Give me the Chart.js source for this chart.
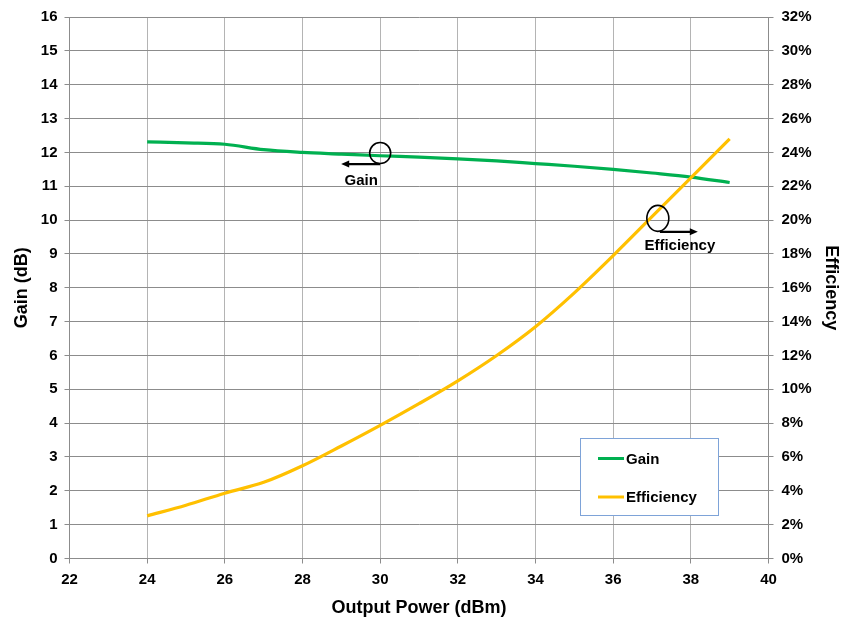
<!DOCTYPE html>
<html>
<head>
<meta charset="utf-8">
<script src="https://cdn.jsdelivr.net/npm/chart.js@4.4.1/dist/chart.umd.min.js"></script>
<style>
  html, body { margin: 0; padding: 0; background: #fff; }
  #wrap { width: 842px; height: 624px; }
</style>
</head>
<body>
<div id="wrap"><canvas id="chart" width="842" height="624"></canvas></div>
<script>
// x values (dBm)
const outputPower = [24, 25, 26, 27, 28, 29, 30, 31, 32, 33, 34, 35, 36, 37, 38, 39];
// Gain (dB), left axis
const gainDb = [12.31, 12.28, 12.24, 12.08, 12.0, 11.95, 11.9, 11.86, 11.81, 11.75, 11.67, 11.59, 11.5, 11.39, 11.27, 11.11];
// Efficiency (%), right axis
const efficiencyPct = [2.52, 3.15, 3.86, 4.5, 5.48, 6.65, 7.87, 9.15, 10.5, 12.0, 13.7, 15.7, 17.9, 20.2, 22.5, 24.8];
const seriesNames = ["Gain", "Efficiency"];
const seriesColors = ["#00b050", "#ffc000"];
// callout anchors: [x, y] in data units of each series' axis
const gainCallout = [30, 11.98];
const effCallout = [37.15, 20.1];

const FONT = "'Liberation Sans', Arial, sans-serif";

function toPoints(xs, ys) {
  return xs.map((x, i) => ({ x: x, y: ys[i] }));
}

//draws the boxed legend inside the plot
const legendBox = {
  id: "legendBox",
  afterDatasetsDraw(chart) {
    const ctx = chart.ctx;
    ctx.save();
    ctx.fillStyle = "#ffffff";
    ctx.fillRect(580.5, 438.5, 138, 77);
    ctx.strokeStyle = "#7ea3d8";
    ctx.lineWidth = 1;
    ctx.strokeRect(580.5, 438.5, 138, 77);
    const rows = [458.5, 497];
    seriesNames.forEach((name, i) => {
      ctx.strokeStyle = seriesColors[i];
      ctx.lineWidth = 3;
      ctx.beginPath();
      ctx.moveTo(598, rows[i]);
      ctx.lineTo(624, rows[i]);
      ctx.stroke();
      ctx.fillStyle = "#000";
      ctx.font = "bold 15px " + FONT;
      ctx.textBaseline = "middle";
      ctx.textAlign = "left";
      ctx.fillText(name, 626, rows[i] + 1);
    });
    ctx.restore();
  }
};

//circle + arrow + label callouts
const callouts = {
  id: "callouts",
  afterDatasetsDraw(chart) {
    const ctx = chart.ctx;
    const xs = chart.scales.x;
    ctx.save();
    ctx.strokeStyle = "#000";
    ctx.fillStyle = "#000";

    function arrow(x1, y, x2) {
      const dir = x2 > x1 ? 1 : -1;
      ctx.lineWidth = 2.2;
      ctx.beginPath();
      ctx.moveTo(x1, y);
      ctx.lineTo(x2 - dir * 6, y);
      ctx.stroke();
      ctx.beginPath();
      ctx.moveTo(x2, y);
      ctx.lineTo(x2 - dir * 8, y - 3.5);
      ctx.lineTo(x2 - dir * 8, y + 3.5);
      ctx.closePath();
      ctx.fill();
    }

    // Gain
    let cx = xs.getPixelForValue(gainCallout[0]);
    let cy = chart.scales.y.getPixelForValue(gainCallout[1]);
    ctx.lineWidth = 1.6;
    ctx.beginPath();
    ctx.ellipse(cx, cy, 10.5, 10.5, 0, 0, Math.PI * 2);
    ctx.stroke();
    arrow(cx, cy + 11, cx - 39);
    ctx.font = "bold 15px " + FONT;
    ctx.textAlign = "center";
    ctx.textBaseline = "middle";
    ctx.fillText("Gain", cx - 19, cy + 28);

    // Efficiency
    cx = xs.getPixelForValue(effCallout[0]);
    cy = chart.scales.y2.getPixelForValue(effCallout[1]);
    ctx.lineWidth = 1.6;
    ctx.beginPath();
    ctx.ellipse(cx, cy, 11, 13, 0, 0, Math.PI * 2);
    ctx.stroke();
    arrow(cx + 2, cy + 13.5, cx + 40);
    ctx.fillText("Efficiency", cx + 22, cy + 27);
    ctx.restore();
  }
};

const tickFont = { family: FONT, size: 15, weight: "bold" };
const titleFont = { family: FONT, size: 18, weight: "bold" };

let myChart = new Chart(document.getElementById("chart"), {
  type: "line",
  plugins: [legendBox, callouts],
  data: {
    datasets: [
      {
        label: seriesNames[0],
        data: toPoints(outputPower, gainDb),
        borderColor: seriesColors[0],
        borderWidth: 3.2,
        pointRadius: 0,
        cubicInterpolationMode: "monotone",
        yAxisID: "y",
        order: 1,
      },
      {
        label: seriesNames[1],
        data: toPoints(outputPower, efficiencyPct),
        borderColor: seriesColors[1],
        borderWidth: 3.2,
        pointRadius: 0,
        cubicInterpolationMode: "monotone",
        yAxisID: "y2",
        order: 0,
      },
    ],
  },
  options: {
    responsive: false,
    animation: false,
    layout: { padding: { top: 14.5, left: 0, right: 0, bottom: 0 } },
    plugins: {
      legend: { display: false },
      tooltip: { enabled: false },
    },
    scales: {
      x: {
        type: "linear",
        min: 22,
        max: 40,
        ticks: { stepSize: 2, color: "#000", font: tickFont, padding: 7, maxRotation: 0 },
        grid: { color: "#b4b4b4", tickLength: 5, tickColor: "#8c8c8c" },
        border: { color: "#8c8c8c" },
        title: { display: true, text: "Output Power (dBm)", color: "#000", font: titleFont, padding: { top: 0, bottom: 5 } },
        afterFit: (s) => { s.height = 65.5; },
      },
      y: {
        position: "left",
        min: 0,
        max: 16,
        ticks: { stepSize: 1, color: "#000", font: tickFont, padding: 7 },
        grid: { color: "#8c8c8c", tickLength: 5 },
        border: { color: "#8c8c8c" },
        title: { display: true, text: "Gain (dB)", color: "#000", font: titleFont, padding: { top: 11, bottom: 0 } },
        afterFit: (s) => { s.width = 69.5; },
      },
      y2: {
        position: "right",
        min: 0,
        max: 32,
        ticks: { stepSize: 2, color: "#000", font: tickFont, padding: 8, callback: (v) => v + "%" },
        grid: { drawOnChartArea: false, color: "#8c8c8c", tickLength: 5 },
        border: { color: "#8c8c8c" },
        title: { display: true, text: "Efficiency", color: "#000", font: titleFont, padding: { top: 0, bottom: 0 } },
        afterFit: (s) => { s.width = 73.5; },
      },
    },
  },
});
</script>
</body>
</html>
